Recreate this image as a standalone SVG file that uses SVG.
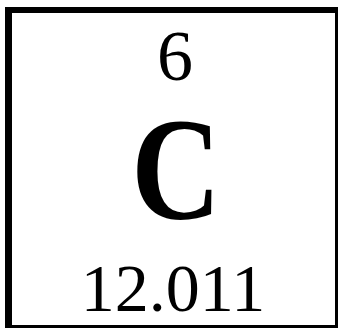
<svg xmlns="http://www.w3.org/2000/svg" width="339" height="329" viewBox="0 0 339 329">
<style>
.t{font-family:"Liberation Serif","Times New Roman",serif;fill:#000;text-anchor:middle}
</style>
<rect width="339" height="329" fill="#fff"/>
<g id="element-carbon">
<path d="M5 7H338V328H5Z M12 13V325H335V13Z" fill="#000" fill-rule="evenodd"/>
<text id="atomic-number" class="t" x="175" y="80" font-size="72">6</text>
<text id="symbol" class="t" transform="translate(176 219) scale(0.85 1)" x="0" y="0" font-size="146" font-weight="bold">C</text>
<text id="atomic-mass" class="t" x="173" y="311" font-size="68">12.011</text>
</g>
</svg>
